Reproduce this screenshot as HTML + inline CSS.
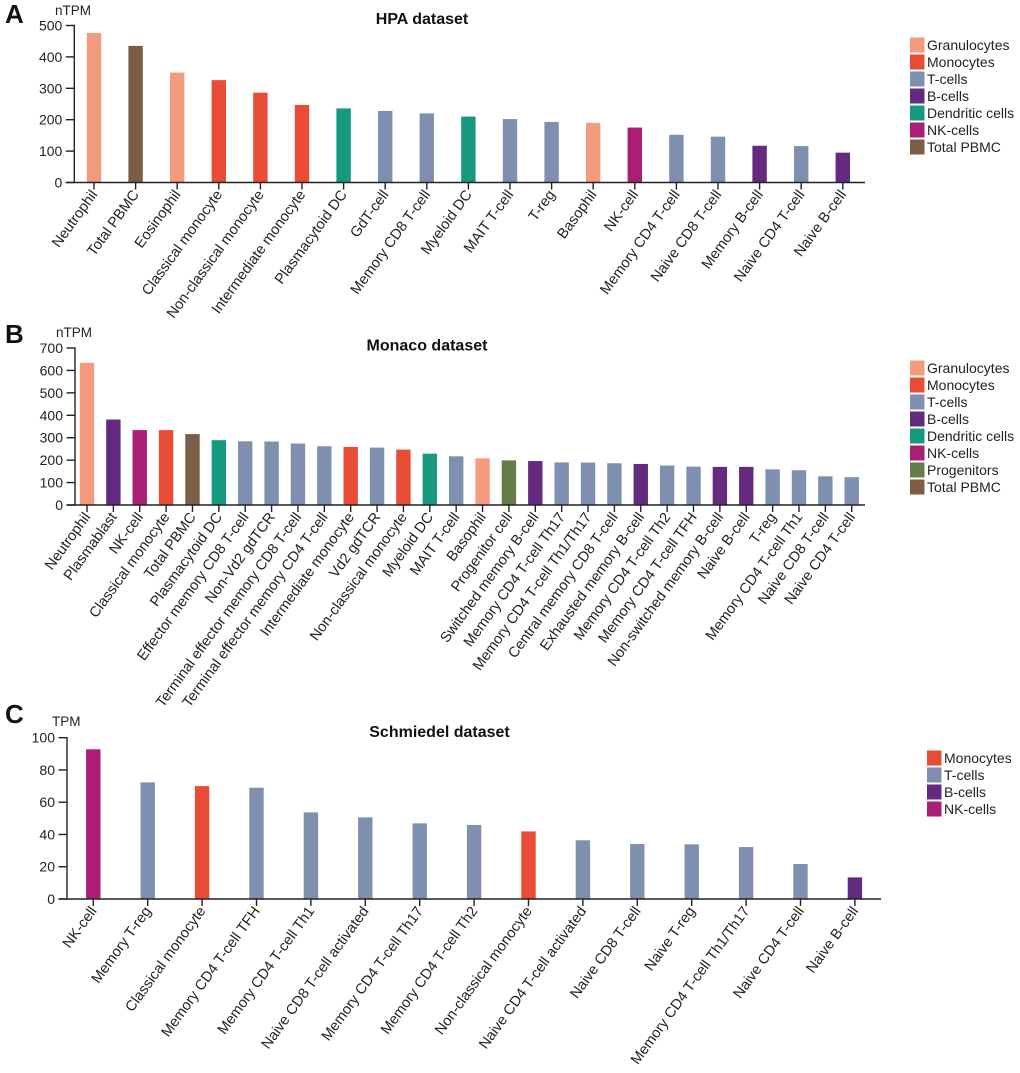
<!DOCTYPE html>
<html lang="en">
<head>
<meta charset="utf-8">
<title>Expression by immune cell type</title>
<style>
html,body{margin:0;padding:0;background:#fff;}
#chart-root{display:block;width:1020px;height:1073px;}
text{font-family:"Liberation Sans",Arial,sans-serif;fill:#222;}
</style>
</head>
<body>
<svg id="chart-root" xmlns="http://www.w3.org/2000/svg" width="1020" height="1073" viewBox="0 0 1020 1073"></svg>
<script>
// Group colours
const groupNames = ['Granulocytes','Monocytes','T-cells','B-cells','Dendritic cells','NK-cells','Progenitors','Total PBMC'];
const groupColors = ['#f39b7f','#e84c35','#7f8fb0','#642a80','#17997f','#ab1e76','#657d47','#7c5d46'];

// Panel A
const hpaCategories = ['Neutrophil','Total PBMC','Eosinophil','Classical monocyte','Non-classical monocyte','Intermediate monocyte','Plasmacytoid DC','GdT-cell','Memory CD8 T-cell','Myeloid DC','MAIT T-cell','T-reg','Basophil','NK-cell','Memory CD4 T-cell','Naive CD8 T-cell','Memory B-cell','Naive CD4 T-cell','Naive B-cell'];
const hpaValues = [476,435,350,326,286,247,236,228,220,210,202,193,190,175,152,146,117,116,95];
const hpaGroups = ['Granulocytes','Total PBMC','Granulocytes','Monocytes','Monocytes','Monocytes','Dendritic cells','T-cells','T-cells','Dendritic cells','T-cells','T-cells','Granulocytes','NK-cells','T-cells','T-cells','B-cells','T-cells','B-cells'];
const hpaTicks = [0,100,200,300,400,500];
const hpaLegend = ['Granulocytes','Monocytes','T-cells','B-cells','Dendritic cells','NK-cells','Total PBMC'];

// Panel B
const monacoCategories = ['Neutrophil','Plasmablast','NK-cell','Classical monocyte','Total PBMC','Plasmacytoid DC','Effector memory CD8 T-cell','Non-Vd2 gdTCR','Terminal effector memory CD8 T-cell','Terminal effector memory CD4 T-cell','Intermediate monocyte','Vd2 gdTCR','Non-classical monocyte','Myeloid DC','MAIT T-cell','Basophil','Progenitor cell','Switched memory B-cell','Memory CD4 T-cell Th17','Memory CD4 T-cell Th1/Th17','Central memory CD8 T-cell','Exhausted memory B-cell','Memory CD4 T-cell Th2','Memory CD4 T-cell TFH','Non-switched memory B-cell','Naive B-cell','T-reg','Memory CD4 T-cell Th1','Naive CD8 T-cell','Naive CD4 T-cell'];
const monacoValues = [634,381,334,334,316,289,284,283,274,262,259,256,247,229,217,208,199,196,190,189,186,183,176,171,170,170,159,155,128,124];
const monacoGroups = ['Granulocytes','B-cells','NK-cells','Monocytes','Total PBMC','Dendritic cells','T-cells','T-cells','T-cells','T-cells','Monocytes','T-cells','Monocytes','Dendritic cells','T-cells','Granulocytes','Progenitors','B-cells','T-cells','T-cells','T-cells','B-cells','T-cells','T-cells','B-cells','B-cells','T-cells','T-cells','T-cells','T-cells'];
const monacoTicks = [0,100,200,300,400,500,600,700];
const monacoLegend = ['Granulocytes','Monocytes','T-cells','B-cells','Dendritic cells','NK-cells','Progenitors','Total PBMC'];

// Panel C
const schmiedelCategories = ['NK-cell','Memory T-reg','Classical monocyte','Memory CD4 T-cell TFH','Memory CD4 T-cell Th1','Naive CD8 T-cell activated','Memory CD4 T-cell Th17','Memory CD4 T-cell Th2','Non-classical monocyte','Naive CD4 T-cell activated','Naive CD8 T-cell','Naive T-reg','Memory CD4 T-cell Th1/Th17','Naive CD4 T-cell','Naive B-cell'];
const schmiedelValues = [92.8,72.3,70,69,53.7,50.6,46.9,45.9,41.9,36.4,34.1,33.9,32.2,21.7,13.4];
const schmiedelGroups = ['NK-cells','T-cells','Monocytes','T-cells','T-cells','T-cells','T-cells','T-cells','Monocytes','T-cells','T-cells','T-cells','T-cells','T-cells','B-cells'];
const schmiedelTicks = [0,20,40,60,80,100];
const schmiedelLegend = ['Monocytes','T-cells','B-cells','NK-cells'];

const svg = document.getElementById('chart-root');
const NS = 'http://www.w3.org/2000/svg';

function make(tag, attrs, parent, txt) {
  const el = document.createElementNS(NS, tag);
  for (const k in attrs) el.setAttribute(k, attrs[k]);
  if (txt !== undefined) el.textContent = txt;
  parent.appendChild(el);
  return el;
}

function drawPanel(p) {
  const g = make('g', {}, svg);
  
  

  const maxTick = p.ticks[p.ticks.length - 1];
  const y = v => p.y0 - (v / maxTick) * (p.y0 - p.yTop);
  const x = i => p.x0 + i * p.step;

  const letter = make('text', {x: p.letterX, y: p.letterY, 'font-size': 26, 'font-weight': 700, style: 'fill:#111'}, g, p.letter);
  
  

  const title = make('text', {x: p.titleX, y: p.titleY, 'text-anchor': 'middle', 'font-size': 16, 'font-weight': 700, style: 'fill:#111'}, g, p.title);
  
  

  const unit = make('text', {x: p.unitX, y: p.unitY, 'font-size': 13.5}, g, p.unit);
  
  

  p.values.forEach((v, i) => {
    const bar = make('rect', {x: x(i) - 7.2, y: y(v), width: 14.4, height: p.y0 - y(v), fill: groupColors[groupNames.indexOf(p.groups[i])]}, g);
    
    
  });

  const yAxis = make('line', {x1: p.axisX, x2: p.axisX, y1: p.yTop - 0.7, y2: p.y0, stroke: '#222', 'stroke-width': 1.4}, g);
  
  

  const xAxis = make('line', {x1: p.axisX - 8.5, x2: p.axisEnd, y1: p.y0, y2: p.y0, stroke: '#222', 'stroke-width': 1.4}, g);
  
  

  p.ticks.forEach(t => {
    const tick = make('line', {x1: p.axisX - 8.5, x2: p.axisX, y1: y(t), y2: y(t), stroke: '#222', 'stroke-width': 1.4}, g);
    
    
    const lab = make('text', {x: p.axisX - 12, y: y(t) + 5, 'text-anchor': 'end', 'font-size': 14}, g, String(t));
    
    
  });

  p.categories.forEach((c, i) => {
    const tick = make('line', {x1: x(i), x2: x(i), y1: p.y0, y2: p.y0 + 7, stroke: '#222', 'stroke-width': 1.4}, g);
    
    
    const lx = x(i) + 4, ly = p.y0 + 12;
    const lab = make('text', {x: lx, y: ly, 'text-anchor': 'end', 'font-size': p.labelSize, transform: 'rotate(-54 ' + lx + ' ' + ly + ')'}, g, c);
    
    
  });

  p.legend.forEach((name, i) => {
    const row = make('g', {}, g);
    
    
    const cy = p.legendY + i * 17;
    make('rect', {x: p.legendX, y: cy - 7.5, width: 14.5, height: 15, fill: groupColors[groupNames.indexOf(name)]}, row);
    make('text', {x: p.legendX + 17, y: cy + 5, 'font-size': 14}, row, name);
  });
}

drawPanel({key:'hpa', letter:'A', letterX:5, letterY:23, title:'HPA dataset', titleX:422, titleY:24, unit:'nTPM', unitX:55, unitY:15,
  categories:hpaCategories, values:hpaValues, groups:hpaGroups, ticks:hpaTicks, legend:hpaLegend,
  x0:94, step:41.6, y0:182.5, yTop:25.5, axisX:74.3, axisEnd:865, labelSize:14.6, legendX:910, legendY:45});

drawPanel({key:'monaco', letter:'B', letterX:5, letterY:343, title:'Monaco dataset', titleX:427, titleY:350.5, unit:'nTPM', unitX:56, unitY:337,
  categories:monacoCategories, values:monacoValues, groups:monacoGroups, ticks:monacoTicks, legend:monacoLegend,
  x0:87, step:26.37, y0:505, yTop:348, axisX:75, axisEnd:865, labelSize:14.6, legendX:910, legendY:368});

drawPanel({key:'schmiedel', letter:'C', letterX:5, letterY:723, title:'Schmiedel dataset', titleX:439.5, titleY:737, unit:'TPM', unitX:52, unitY:726,
  categories:schmiedelCategories, values:schmiedelValues, groups:schmiedelGroups, ticks:schmiedelTicks, legend:schmiedelLegend,
  x0:93.3, step:54.4, y0:899, yTop:737.7, axisX:67, axisEnd:881, labelSize:14.6, legendX:927, legendY:758});
</script>
</body>
</html>
